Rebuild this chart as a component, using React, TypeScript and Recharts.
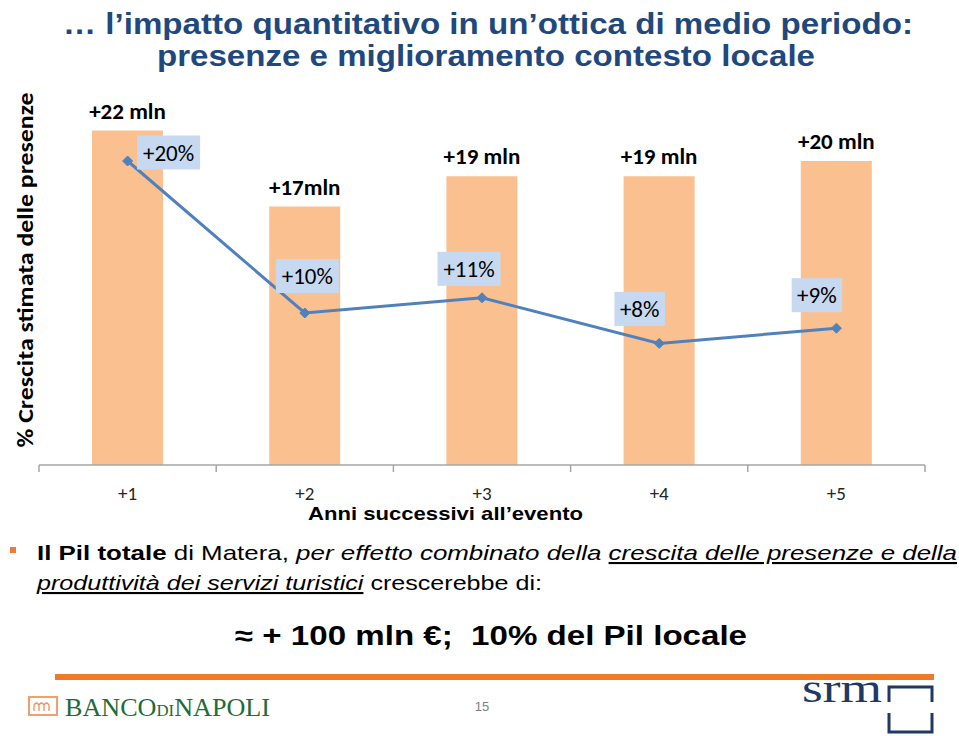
import React from 'react';
import { ComposedChart, Bar, Line, XAxis, YAxis, LabelList } from 'recharts';

// ---------- data ----------
const CATEGORIES = ['+1', '+2', '+3', '+4', '+5'];
const PRESENZE_MLN = [22, 17, 19, 19, 20];
const PRESENZE_LABELS = ['+22 mln', '+17mln', '+19 mln', '+19 mln', '+20 mln'];
const CRESCITA_PCT = [20, 10, 11, 8, 9];
const CRESCITA_LABELS = ['+20%', '+10%', '+11%', '+8%', '+9%'];

// hand-placed label boxes (centre offset from the point), as in the original
const PCT_LABEL_OFFSETS = [
  [41, -8.5],
  [2.5, -37],
  [-13, -29],
  [-19.5, -34.5],
  [-19.5, -33],
];

const data = CATEGORIES.map((c, i) => ({
  cat: c,
  mln: PRESENZE_MLN[i],
  pct: CRESCITA_PCT[i],
  mlnLabel: PRESENZE_LABELS[i],
  pctLabel: CRESCITA_LABELS[i],
}));

// ---------- layout / styles ----------
const CHART_W = 959;
const CHART_H = 736;
const MARGIN = { top: 85, right: 34, bottom: 231, left: 39 };
const PLOT_W = CHART_W - MARGIN.left - MARGIN.right;
const HALF_BAND = PLOT_W / CATEGORIES.length / 2;

const CAL = "Carlito, Calibri, Lato, 'Open Sans', sans-serif";
const ARIAL = "'Liberation Sans', Arial, Helvetica, sans-serif";
const SERIF = "'Liberation Serif', 'Times New Roman', serif";
const BAR_FILL = '#FAC090';
const LINE_BLUE = '#4F81BD';
const BOX_FILL = '#C6D9F1';
const TITLE_BLUE = '#1F497D';
const AXIS_GREY = '#A6A6A6';

const Diamond = (props: any) => {
  const { cx, cy } = props;
  if (cx == null || cy == null) return null;
  const r = 5;
  return (
    <path
      d={`M${cx},${cy - r} L${cx + r},${cy} L${cx},${cy + r} L${cx - r},${cy} Z`}
      fill={LINE_BLUE}
      stroke={LINE_BLUE}
      strokeWidth={1}
    />
  );
};

const CategoryTick = (props: any) => {
  const { x, y, payload } = props;
  const isLast = payload && payload.value === CATEGORIES[CATEGORIES.length - 1];
  return (
    <g>
      <line x1={x - HALF_BAND} y1={y} x2={x - HALF_BAND} y2={y + 7} stroke={AXIS_GREY} strokeWidth={1.5} />
      {isLast && (
        <line x1={x + HALF_BAND} y1={y} x2={x + HALF_BAND} y2={y + 7} stroke={AXIS_GREY} strokeWidth={1.5} />
      )}
      <text x={x} y={y + 35} textAnchor="middle" fontFamily={CAL} fontSize={19} fill="#262626">
        {payload.value}
      </text>
    </g>
  );
};

const BarLabel = (props: any) => {
  const { x, y, width, value } = props;
  return (
    <text
      x={x + width / 2}
      y={y - 12}
      textAnchor="middle"
      fontFamily={CAL}
      fontWeight={700}
      fontSize={23}
      fill="#000"
    >
      {value}
    </text>
  );
};

const PctLabel = (props: any) => {
  const { x, y, value, index } = props;
  const off = PCT_LABEL_OFFSETS[index] || [0, -30];
  const w = String(value).length * 12.5 + 13;
  const h = 34;
  const cx = x + off[0];
  const cy = y + off[1];
  return (
    <g>
      <rect x={cx - w / 2} y={cy - h / 2} width={w} height={h} fill={BOX_FILL} />
      <text x={cx} y={cy + 8} textAnchor="middle" fontFamily={CAL} fontSize={23} fill="#000">
        {value}
      </text>
    </g>
  );
};

export default function App() {
  return (
    <div
      style={{
        position: 'absolute',
        left: 0,
        top: 0,
        width: 959,
        height: 736,
        background: '#fff',
        overflow: 'hidden',
      }}
    >
      <div style={{ position: 'absolute', left: 0, top: 0 }}>
        <ComposedChart width={CHART_W} height={CHART_H} data={data} margin={MARGIN}>
          <XAxis
            dataKey="cat"
            xAxisId="cat"
            height={40}
            interval={0}
            tickLine={false}
            tickSize={0}
            tickMargin={0}
            axisLine={{ stroke: AXIS_GREY, strokeWidth: 1.5 }}
            tick={<CategoryTick />}
          />
          <YAxis yAxisId="v" domain={[0, 25]} hide width={0} />
          <Bar
            xAxisId="cat"
            yAxisId="v"
            dataKey="mln"
            fill={BAR_FILL}
            barSize={71}
            isAnimationActive={false}
          >
            <LabelList dataKey="mlnLabel" content={BarLabel} />
          </Bar>
          <Line
            xAxisId="cat"
            yAxisId="v"
            dataKey="pct"
            stroke={LINE_BLUE}
            strokeWidth={3}
            dot={<Diamond />}
            activeDot={false}
            isAnimationActive={false}
          >
            <LabelList dataKey="pctLabel" content={PctLabel} />
          </Line>
        </ComposedChart>
      </div>

      <svg
        width={959}
        height={736}
        style={{ position: 'absolute', left: 0, top: 0, pointerEvents: 'none' }}
      >
        {/* title */}
        <text
          x={488}
          y={34}
          textAnchor="middle"
          fontFamily={ARIAL}
          fontWeight={700}
          fontSize={30}
          fill={TITLE_BLUE}
          textLength={850}
          lengthAdjust="spacingAndGlyphs"
        >
          … l’impatto quantitativo in un’ottica di medio periodo:
        </text>
        <text
          x={486}
          y={66}
          textAnchor="middle"
          fontFamily={ARIAL}
          fontWeight={700}
          fontSize={30}
          fill={TITLE_BLUE}
          textLength={658}
          lengthAdjust="spacingAndGlyphs"
        >
          presenze e miglioramento contesto locale
        </text>

        {/* y axis title */}
        <text
          transform="translate(33,270) rotate(-90)"
          textAnchor="middle"
          fontFamily={CAL}
          fontWeight={700}
          fontSize={23}
          fill="#000"
          textLength={355}
          lengthAdjust="spacingAndGlyphs"
        >
          % Crescita stimata delle presenze
        </text>

        {/* x axis title */}
        <text
          x={445.5}
          y={520}
          textAnchor="middle"
          fontFamily={ARIAL}
          fontWeight={700}
          fontSize={19}
          fill="#000"
          textLength={275}
          lengthAdjust="spacingAndGlyphs"
        >
          Anni successivi all’evento
        </text>

        {/* bullet text */}
        <rect x={10} y={547} width={6} height={6} fill="#F07A3C" />
        <text
          x={37}
          y={560}
          fontFamily={ARIAL}
          fontSize={21}
          fill="#000"
          textLength={920}
          lengthAdjust="spacingAndGlyphs"
          style={{ whiteSpace: 'pre' }}
        >
          <tspan fontWeight={700}>Il Pil totale</tspan>
          <tspan> di Matera, </tspan>
          <tspan fontStyle="italic">per effetto combinato della </tspan>
          <tspan fontStyle="italic" textDecoration="underline">
            crescita delle presenze e della
          </tspan>
        </text>
        <text
          x={37}
          y={590}
          fontFamily={ARIAL}
          fontSize={21}
          fill="#000"
          textLength={505}
          lengthAdjust="spacingAndGlyphs"
          style={{ whiteSpace: 'pre' }}
        >
          <tspan fontStyle="italic" textDecoration="underline">
            produttività dei servizi turistici
          </tspan>
          <tspan> crescerebbe di:</tspan>
        </text>

        <text
          x={491}
          y={645}
          textAnchor="middle"
          fontFamily={ARIAL}
          fontWeight={700}
          fontSize={27}
          fill="#000"
          textLength={512}
          lengthAdjust="spacingAndGlyphs"
          style={{ whiteSpace: 'pre' }}
        >
          ≈ + 100 mln €;  10% del Pil locale
        </text>

        {/* footer */}
        <rect x={55} y={674} width={879} height={6} fill="#F07A26" />

        {/* Banco di Napoli logo */}
        <rect x={29} y={697} width={28} height={18} fill="#fff" stroke="#F0A070" strokeWidth={2} />
        <path
          d="M34,711 v-6 q2.5,-4 5,0 v6 M39,711 v-6 q2.5,-4 5,0 v6 M44,711 v-6 q2.5,-4 5,0 v6"
          fill="none"
          stroke="#E8945C"
          strokeWidth={1.3}
        />
        <text
          x={65}
          y={716}
          fontFamily={SERIF}
          fontSize={25}
          fill="#1E6B3C"
          textLength={205}
          lengthAdjust="spacingAndGlyphs"
        >
          BANCO<tspan fontSize={16}>DI</tspan>NAPOLI
        </text>

        <text x={482} y={711} textAnchor="middle" fontFamily={ARIAL} fontSize={13} fill="#808080">
          15
        </text>

        {/* srm logo */}
        <text
          x={802}
          y={702}
          fontFamily={SERIF}
          fontSize={40}
          fill="#1F3864"
          textLength={80}
          lengthAdjust="spacingAndGlyphs"
        >
          srm
        </text>
        <path
          d="M889,702 V687 H932 V702 M889,713 V732 H932 V713"
          fill="none"
          stroke="#1F3864"
          strokeWidth={3}
        />
      </svg>
    </div>
  );
}
